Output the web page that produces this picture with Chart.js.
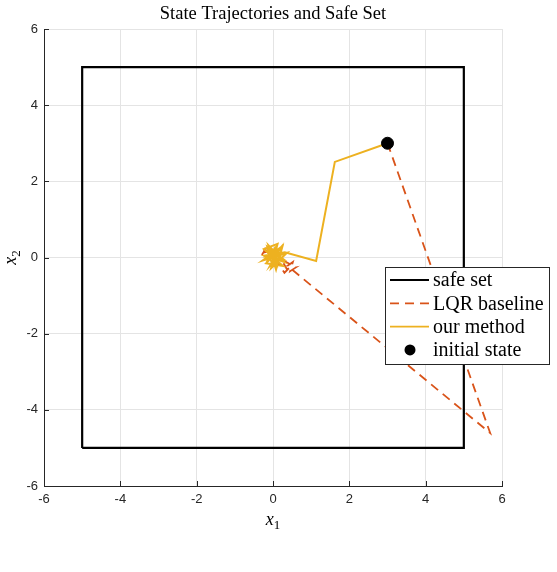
<!DOCTYPE html>
<html>
<head>
<meta charset="utf-8">
<script src="https://cdn.jsdelivr.net/npm/chart.js@4/dist/chart.umd.min.js"></script>
<style>
  html, body { margin: 0; padding: 0; background: #fff; }
  #wrap { width: 557px; height: 572px; position: relative; }
</style>
</head>
<body>
<div id="wrap"><canvas id="chart"></canvas></div>
<script>
// axis ticks
const tickValues = [-6, -4, -2, 0, 2, 4, 6];

// safe set box corners
const safeX = [-5, 5, 5, -5, -5];
const safeY = [-5, -5, 5, 5, -5];

// LQR baseline trajectory
const lqrX = [3, 5.69, 0.38, 0.52, 0.45, 0.6, 0.36, 0.22, 0.5, 0.3, 0.1, -0.22, -0.3, -0.18, -0.27, -0.05, 0.08, -0.08, 0.04, 0];
const lqrY = [3, -4.61, -0.22, -0.12, -0.36, -0.26, -0.3, -0.05, -0.2, -0.4, -0.1, 0.22, 0.05, 0.25, 0.12, 0.18, -0.05, 0.1, 0.02, 0];

// our method trajectory
const ourX = [3, 1.62, 1.13, 0.31, -0.22, 0.3, -0.12, 0.08, 0.25, -0.27, 0.36, -0.05, 0.12, -0.24, 0.26, -0.18, 0.2, -0.02, -0.15, 0.28,
              -0.2, 0.15, -0.08, 0.22, -0.16, 0.1, 0.05, -0.12, 0.18, -0.1, 0.08, -0.05, 0.04, 0];
const ourY = [3, 2.51, -0.09, 0.14, 0.05, -0.12, 0.32, -0.32, 0.3, -0.08, 0.12, -0.28, 0.36, 0.22, -0.22, -0.15, 0.26, -0.2, 0.28, -0.05,
              0.02, 0.22, -0.22, 0.08, 0.16, -0.18, 0.25, -0.05, 0.12, 0.12, -0.1, 0.08, -0.04, 0];

// initial state
const initX = [3];
const initY = [3];

const lqrColor = '#D95319';
const ourColor = '#EDB120';
const axisColor = '#262626';
const serif = '"Liberation Serif", "DejaVu Serif", serif';

const toPoints = (xs, ys) => xs.map((x, i) => ({ x: x, y: ys[i] }));

const legendItems = [
    { label: 'safe set', kind: 'line', color: '#000', width: 2, dash: [] },
    { label: 'LQR baseline', kind: 'line', color: lqrColor, width: 1.8, dash: [9, 6] },
    { label: 'our method', kind: 'line', color: ourColor, width: 1.8, dash: [] },
    { label: 'initial state', kind: 'dot', color: '#000' }
];

const decorPlugin = {
    id: 'decor',
    afterDraw(chart) {
        const ctx = chart.ctx;
        const area = chart.chartArea;
        const sx = chart.scales.x;
        const sy = chart.scales.y;
        ctx.save();

        // inward tick marks
        ctx.strokeStyle = axisColor;
        ctx.lineWidth = 1;
        ctx.beginPath();
        tickValues.forEach(v => {
            const px = Math.round(sx.getPixelForValue(v)) + 0.5;
            ctx.moveTo(px, area.bottom);
            ctx.lineTo(px, area.bottom - 5);
            const py = Math.round(sy.getPixelForValue(v)) + 0.5;
            ctx.moveTo(area.left, py);
            ctx.lineTo(area.left + 5, py);
        });
        ctx.stroke();

        // title
        ctx.fillStyle = '#000';
        ctx.font = '18.5px ' + serif;
        ctx.textAlign = 'center';
        ctx.textBaseline = 'middle';
        ctx.fillText('State Trajectories and Safe Set', (area.left + area.right) / 2, 14);

        // axis labels with subscripts
        const drawSub = (x, y, sub) => {
            ctx.font = 'italic 18px ' + serif;
            ctx.textAlign = 'left';
            ctx.textBaseline = 'alphabetic';
            const w = ctx.measureText('x').width;
            const w2 = (ctx.font = '13px ' + serif, ctx.measureText(sub).width);
            const start = x - (w + w2) / 2;
            ctx.font = 'italic 18px ' + serif;
            ctx.fillText('x', start, y);
            ctx.font = '13px ' + serif;
            ctx.fillText(sub, start + w, y + 4);
        };
        drawSub((area.left + area.right) / 2, 525, '1');
        ctx.save();
        ctx.translate(16, (area.top + area.bottom) / 2);
        ctx.rotate(-Math.PI / 2);
        drawSub(0, 0, '2');
        ctx.restore();

        // legend box
        const lx = 385, ly = 267, lw = 164, lh = 97;
        ctx.fillStyle = '#fff';
        ctx.fillRect(lx, ly, lw, lh);
        ctx.strokeStyle = axisColor;
        ctx.lineWidth = 1;
        ctx.strokeRect(lx + 0.5, ly + 0.5, lw, lh);
        legendItems.forEach((item, i) => {
            const cy = ly + 13 + i * 23.3;
            if (item.kind === 'line') {
                ctx.strokeStyle = item.color;
                ctx.lineWidth = item.width;
                ctx.setLineDash(item.dash);
                ctx.beginPath();
                ctx.moveTo(lx + 5, cy);
                ctx.lineTo(lx + 44, cy);
                ctx.stroke();
                ctx.setLineDash([]);
            } else {
                ctx.fillStyle = item.color;
                ctx.beginPath();
                ctx.arc(lx + 25, cy, 5.5, 0, Math.PI * 2);
                ctx.fill();
            }
            ctx.fillStyle = '#000';
            ctx.font = '20px ' + serif;
            ctx.textAlign = 'left';
            ctx.textBaseline = 'middle';
            ctx.fillText(item.label, lx + 48, cy + 1);
        });
        ctx.restore();
    }
};

const tickFont = { family: '"Liberation Sans", Arial, sans-serif', size: 13 };

new Chart(document.getElementById('chart'), {
    type: 'scatter',
    data: {
        datasets: [
            {
                label: 'safe set',
                data: toPoints(safeX, safeY),
                showLine: true,
                borderColor: '#000',
                borderWidth: 2.2,
                pointRadius: 0,
                order: 4
            },
            {
                label: 'LQR baseline',
                data: toPoints(lqrX, lqrY),
                showLine: true,
                borderColor: lqrColor,
                borderWidth: 1.8,
                borderDash: [9, 6],
                pointRadius: 0,
                order: 3
            },
            {
                label: 'our method',
                data: toPoints(ourX, ourY),
                showLine: true,
                borderColor: ourColor,
                borderWidth: 2,
                pointRadius: 0,
                order: 2
            },
            {
                label: 'initial state',
                data: toPoints(initX, initY),
                pointRadius: 6,
                pointBackgroundColor: '#000',
                pointBorderColor: '#000',
                order: 1
            }
        ]
    },
    options: {
        responsive: true,
        maintainAspectRatio: false,
        animation: false,
        layout: { padding: { top: 29, right: 55, left: 0, bottom: 0 } },
        plugins: {
            legend: { display: false },
            tooltip: { enabled: false },
            title: { display: false }
        },
        scales: {
            x: {
                type: 'linear',
                min: -6,
                max: 6,
                afterBuildTicks: s => { s.ticks = tickValues.map(v => ({ value: v })); },
                ticks: { color: axisColor, font: tickFont, padding: 6 },
                grid: { color: '#e4e4e4', drawTicks: false },
                border: { color: axisColor, width: 1 },
                afterFit: s => { s.height = 86; }
            },
            y: {
                type: 'linear',
                min: -6,
                max: 6,
                afterBuildTicks: s => { s.ticks = tickValues.map(v => ({ value: v })); },
                ticks: { color: axisColor, font: tickFont, padding: 6 },
                grid: { color: '#e4e4e4', drawTicks: false },
                border: { color: axisColor, width: 1 },
                afterFit: s => { s.width = 44; }
            }
        }
    },
    plugins: [decorPlugin]
});
</script>
</body>
</html>
